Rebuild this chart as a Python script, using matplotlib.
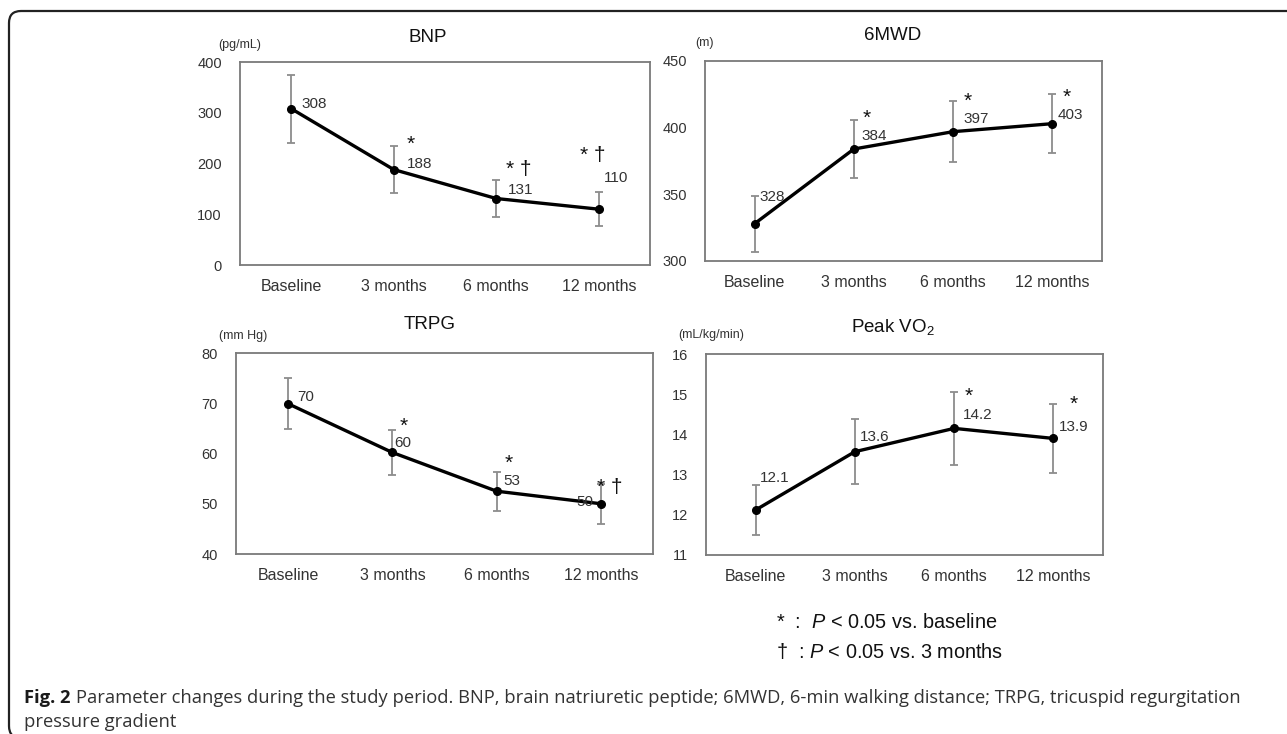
import matplotlib
matplotlib.use("Agg")
import matplotlib.pyplot as plt
from matplotlib.patches import FancyBboxPatch
from matplotlib.transforms import IdentityTransform

plt.rcParams['font.family'] = ['Liberation Sans', 'DejaVu Sans']
plt.rcParams['mathtext.fontset'] = 'custom'
plt.rcParams['mathtext.rm'] = 'Liberation Sans'
plt.rcParams['mathtext.it'] = 'Liberation Sans:italic'

# ---------------- data ----------------
categories = ["Baseline", "3 months", "6 months", "12 months"]

bnp_values = [308, 188, 131, 110]
bnp_err = [67, 47, 37, 33]
bnp_labels = ["308", "188", "131", "110"]
bnp_sig = ["", "*", "* †", "* †"]

mwd_values = [328, 384, 397, 403]
mwd_err = [21, 22, 23, 22]
mwd_labels = ["328", "384", "397", "403"]
mwd_sig = ["", "*", "*", "*"]

trpg_values = [69.9, 60.2, 52.5, 50.0]
trpg_err = [5.1, 4.4, 3.9, 4.0]
trpg_labels = ["70", "60", "53", "50"]
trpg_sig = ["", "*", "*", "* †"]

vo2_values = [12.12, 13.57, 14.15, 13.9]
vo2_err = [0.63, 0.81, 0.91, 0.86]
vo2_labels = ["12.1", "13.6", "14.2", "13.9"]
vo2_sig = ["", "", "*", "*"]

W, H = 1287, 734
fig = plt.figure(figsize=(W / 100, H / 100), dpi=100)
fig.patch.set_facecolor("white")

TXT = "#333333"


def px_axes(l, t, r, b):
    return fig.add_axes([l / W, 1 - b / H, (r - l) / W, (b - t) / H])


def panel(box, values, err, labels, sig, ylim, yticks, title, title_xy, unit, unit_xy,
          lab_off, sig_off):
    ax = px_axes(*box)
    x = list(range(len(categories)))
    ax.errorbar(x, values, yerr=err, fmt="none", ecolor="#8c8c8c", elinewidth=1.3,
                capsize=2.8, capthick=1.3, zorder=2)
    ax.plot(x, values, color="black", lw=2.4, marker="o", ms=5.5, zorder=3)
    ax.set_xlim(-0.5, len(categories) - 0.5)
    ax.set_ylim(*ylim)
    ax.set_yticks(yticks)
    ax.set_yticklabels([str(t) for t in yticks])
    ax.set_xticks(x)
    ax.set_xticklabels(categories)
    ax.tick_params(axis="y", length=0, labelsize=10.5, colors=TXT, pad=13)
    ax.tick_params(axis="x", length=0, labelsize=11.5, colors=TXT, pad=10)
    for s in ax.spines.values():
        s.set_color("#7a7a7a")
        s.set_linewidth(1.3)
    for i, (v, lab) in enumerate(zip(values, labels)):
        dx, dy = lab_off[i]
        ax.annotate(lab, xy=(i, v), xytext=(dx, dy), textcoords="offset pixels",
                    ha="left", va="center", fontsize=11, color=TXT, zorder=4)
        if sig[i]:
            sx, sy = sig_off[i]
            ax.annotate(sig[i], xy=(i, v), xytext=(sx, sy), textcoords="offset pixels",
                        ha="center", va="center", fontsize=15, color="#111111", zorder=4)
    fig.text(title_xy[0] / W, 1 - title_xy[1] / H, title, ha="center", va="center",
             fontsize=13.5, color="#111111")
    fig.text(unit_xy[0] / W, 1 - unit_xy[1] / H, unit, ha="center", va="center",
             fontsize=9, color=TXT)
    return ax


panel((240, 62, 650, 265), bnp_values, bnp_err, bnp_labels, bnp_sig,
      (0, 400), [0, 100, 200, 300, 400], "BNP", (428, 37), "(pg/mL)", (240, 45),
      [(10, 5), (13, 6), (12, 9), (5, 31)], [(0, 0), (17, 25), (22, 29), (-6, 54)])

panel((705, 61, 1102, 261), mwd_values, mwd_err, mwd_labels, mwd_sig,
      (300, 450), [300, 350, 400, 450], "6MWD", (893, 36), "(m)", (704, 43),
      [(5, 27), (8, 13), (10, 13), (5, 9)], [(0, 0), (13, 31), (15, 30), (14, 26)])

panel((236, 353, 653, 554), trpg_values, trpg_err, trpg_labels, trpg_sig,
      (40, 80), [40, 50, 60, 70, 80], "TRPG", (430, 325), "(mm Hg)", (243, 336),
      [(9, 7), (2, 9), (7, 10), (-25, 2)], [(0, 0), (11, 26), (12, 28), (9, 16)])

panel((706, 354, 1103, 555), vo2_values, vo2_err, vo2_labels, vo2_sig,
      (11, 16), [11, 12, 13, 14, 15, 16], r"Peak VO$_\mathregular{2}$", (893, 327),
      "(mL/kg/min)", (711, 335),
      [(4, 32), (5, 15), (9, 13), (5, 11)], [(0, 0), (0, 0), (15, 32), (20, 34)])

# significance legend
fig.text(776 / W, 1 - 623 / H, r"*  :  $\mathit{P}$ < 0.05 vs. baseline", ha="left",
         va="center", fontsize=14.3, color="#111111")
fig.text(776 / W, 1 - 652 / H, r"†  : $\mathit{P}$ < 0.05 vs. 3 months", ha="left",
         va="center", fontsize=14.3, color="#111111")

# caption
cap_font = ['Open Sans', 'DejaVu Sans']
CAP = 13.2
t1 = fig.text(24 / W, 1 - 698 / H, "Fig. 2", ha="left", va="center", fontsize=CAP,
              fontweight="bold", family=cap_font, color="#1a1a1a")
fig.canvas.draw()
bb = t1.get_window_extent()
fig.text((bb.x1 + 5) / W, 1 - 698 / H,
         "Parameter changes during the study period. BNP, brain natriuretic peptide; "
         "6MWD, 6-min walking distance; TRPG, tricuspid regurgitation",
         ha="left", va="center", fontsize=CAP, family=cap_font, color="#333333")
fig.text(24 / W, 1 - 722 / H, "pressure gradient", ha="left", va="center",
         fontsize=CAP, family=cap_font, color="#333333")

# rounded frame (bottom and right edges fall outside the canvas)
frame = FancyBboxPatch((9, -4), 1320, 734 - 11 + 4, boxstyle="round,pad=0,rounding_size=12",
                       transform=IdentityTransform(), fill=False, edgecolor="#222222",
                       linewidth=1.6)
fig.add_artist(frame)

fig.savefig("out.png", dpi=100)
